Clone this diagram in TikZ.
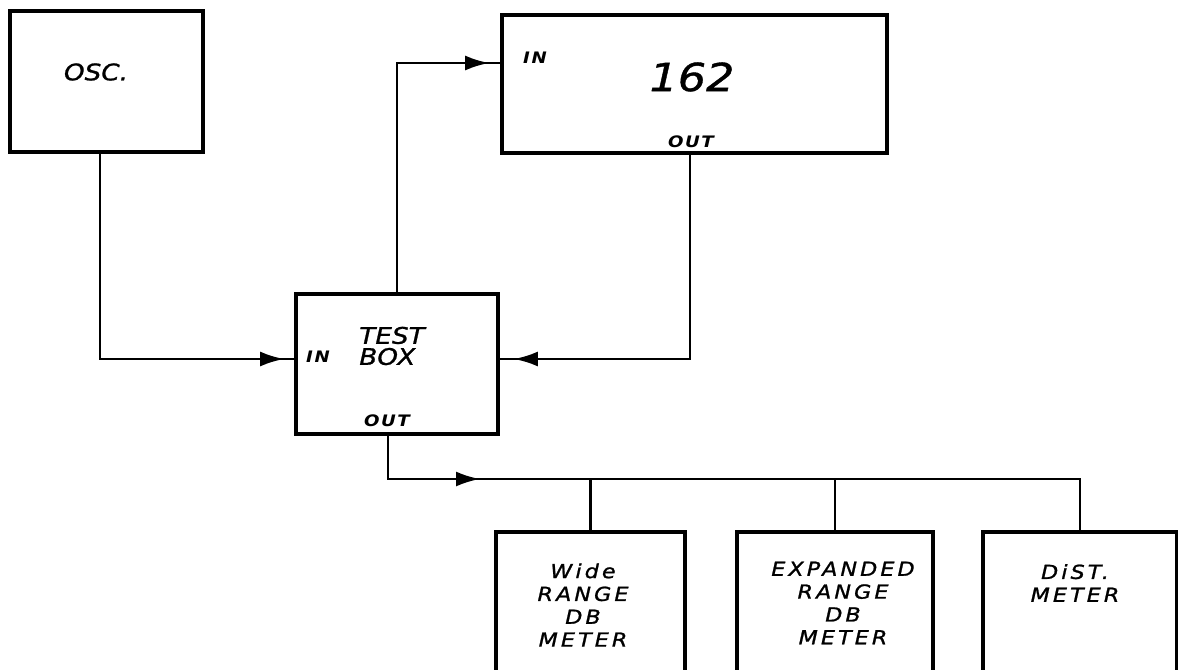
\documentclass[tikz,border=0pt]{standalone}
\usepackage{fontspec}
\newfontfamily\handfont{DejaVu Sans}[FakeStretch=1.15]
\usetikzlibrary{arrows.meta}

\begin{document}
\begin{tikzpicture}[>={Latex[length=4.8mm,width=3mm]}, line width=1.6pt]
    \tikzstyle{unit}=[draw, line width=2.1pt, inner sep=0pt]
    \tikzstyle{meter}=[unit, minimum height=3.2cm]
    \tikzstyle{lbl}=[inner sep=0pt, align=center,
      font=\handfont\itshape\addfontfeature{LetterSpace=16,FakeBold=1.2}\fontsize{11}{13}\selectfont]
    \tikzstyle{title}=[inner sep=0pt, align=left,
      font=\handfont\itshape\addfontfeature{FakeBold=1}\fontsize{13}{12}\selectfont]
    \tikzstyle{port}=[inner sep=0pt,
      font=\handfont\bfseries\itshape\addfontfeature{LetterSpace=10}\fontsize{9}{9}\selectfont]

    \useasboundingbox (0,0) rectangle (23.56,13.38);
    \clip (0,0) rectangle (23.56,13.38);

    \node[unit, minimum width=3.86cm, minimum height=2.82cm] (osc) at (2.13,11.75) {};
    \node[unit, minimum width=7.7cm, minimum height=2.76cm] (b162) at (13.89,11.70) {};
    \node[unit, minimum width=4.04cm, minimum height=2.8cm] (test) at (7.94,6.10) {};
    \node[meter, minimum width=3.78cm] (wide) at (11.81,1.14) {};
    \node[meter, minimum width=3.92cm] (expd) at (16.70,1.14) {};
    \node[meter, minimum width=3.88cm] (dist) at (21.60,1.14) {};

    \node[title] (osc-t) at (1.92,11.94) {OSC.};
    \node[title, font=\handfont\itshape\addfontfeature{FakeBold=1}\fontsize{22}{22}\selectfont] (b162-t) at (13.84,11.84) {162};
    \node[port] (b162-in) at (10.70,12.22) {IN};
    \node[port] (b162-out) at (13.82,10.54) {OUT};
    \node[title] (test-t) at (7.84,6.46) {TEST\\BOX};
    \node[port] (test-in) at (6.36,6.24) {IN};
    \node[port] (test-out) at (7.74,4.96) {OUT};
    \node[lbl] (wide-t) at (11.66,1.28) {Wide\\RANGE\\DB\\METER};
    \node[lbl] (expd-t) at (16.86,1.32) {EXPANDED\\RANGE\\DB\\METER};
    \node[lbl] (dist-t) at (21.50,1.72) {DiST.\\METER};

    \path ([yshift=0.1cm]test.west) coordinate (test-l) ++(-0.20,0) coordinate (a1);
    \path ([yshift=0.42cm]b162.west) coordinate (b162-l) ++(-0.22,0) coordinate (a2);
    \path ([yshift=0.1cm]test.east) coordinate (test-r) ++(0.28,0) coordinate (a3);
    \coordinate (a4) at (9.6,3.8);

    \draw ([xshift=-0.13cm]osc.south) |- (test-l);
    \draw (test.north) |- (b162-l);
    \draw ([xshift=-0.09cm]b162.south) |- (test-r);
    \draw ([xshift=-0.18cm]test.south) |- (a4) -| (dist.north);
    \foreach \m in {wide,expd}
    \draw (\m.north) -- (\m.north |- a4);

    \foreach \t/\d in {a1/-,a2/-,a4/-,a3/}
    \draw[->] ([xshift=\d 4.6mm]\t) -- (\t);
  \end{tikzpicture}
\end{document}
